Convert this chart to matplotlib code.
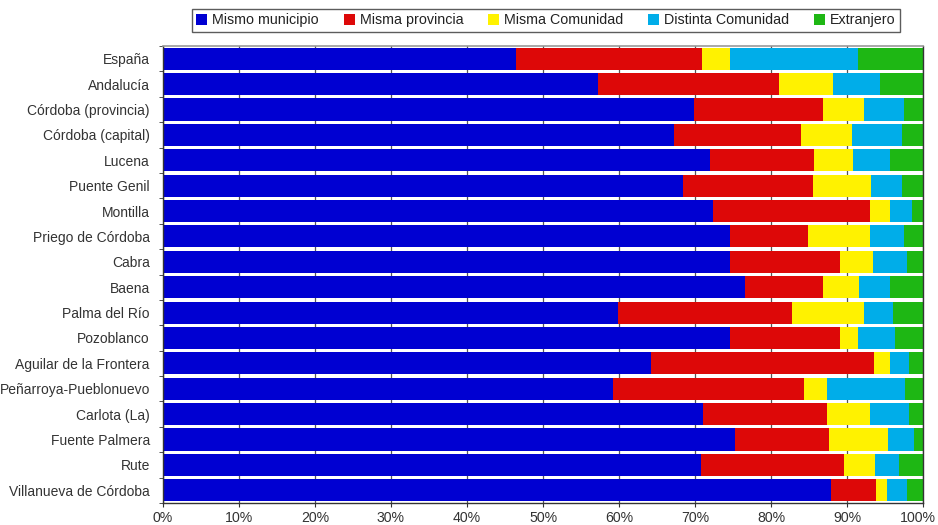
import matplotlib
matplotlib.use("Agg")
import matplotlib.pyplot as plt
import matplotlib.transforms as mtransforms
from matplotlib.patches import Patch
import numpy as np

plt.rcParams['font.family'] = ['Liberation Sans', 'DejaVu Sans']

categories = ["España", "Andalucía", "Córdoba (provincia)", "Córdoba (capital)", "Lucena",
              "Puente Genil", "Montilla", "Priego de Córdoba", "Cabra", "Baena",
              "Palma del Río", "Pozoblanco", "Aguilar de la Frontera", "Peñarroya-Pueblonuevo",
              "Carlota (La)", "Fuente Palmera", "Rute", "Villanueva de Córdoba"]

series_names = ["Mismo municipio", "Misma provincia", "Misma Comunidad", "Distinta Comunidad", "Extranjero"]

mismo_municipio = [46.4, 57.3, 69.9, 67.2, 72.0, 68.4, 72.4, 74.6, 74.6, 76.6,
                   59.9, 74.6, 64.2, 59.2, 71.1, 75.3, 70.8, 87.9]
misma_provincia = [24.5, 23.8, 17.0, 16.7, 13.7, 17.1, 20.6, 10.3, 14.5, 10.3,
                   22.8, 14.5, 29.3, 25.1, 16.3, 12.3, 18.8, 5.9]
misma_comunidad = [3.7, 7.0, 5.4, 6.8, 5.1, 7.7, 2.7, 8.1, 4.3, 4.7,
                   9.5, 2.3, 2.2, 3.1, 5.6, 7.8, 4.1, 1.5]
distinta_comunidad = [16.8, 6.3, 5.2, 6.6, 4.8, 4.1, 2.9, 4.5, 4.5, 4.0,
                      3.9, 4.9, 2.5, 10.2, 5.2, 3.4, 3.2, 2.6]
extranjero = [8.6, 5.6, 2.5, 2.7, 4.4, 2.7, 1.4, 2.5, 2.1, 4.4,
              3.9, 3.7, 1.8, 2.4, 1.8, 1.2, 3.1, 2.1]

xtick_labels = ["0%", "10%", "20%", "30%", "40%", "50%", "60%", "70%", "80%", "90%", "100%"]

colors = ["#0000D2", "#DD0808", "#FFF200", "#00ADE9", "#1EB714"]

data = [mismo_municipio, misma_provincia, misma_comunidad, distinta_comunidad, extranjero]

fig = plt.figure(figsize=(9.38, 5.25), dpi=100)
ax = fig.add_axes([163/938, 1 - 503/525, 760/938, 457/525])

y = np.arange(len(categories))
left = np.zeros(len(categories))
for vals, col, name in zip(data, colors, series_names):
    vals = np.array(vals)
    ax.barh(y, vals, left=left, height=0.87, color=col, label=name, zorder=2)
    left += vals

ax.set_xlim(0, 100)
ax.set_ylim(len(categories) - 0.5, -0.5)

ax.set_xticks(np.arange(0, 101, 10))
ax.set_xticklabels(xtick_labels, fontsize=10.2, color="#333333")
ax.set_yticks(y)
ax.set_yticklabels(categories, fontsize=10, color="#333333")
ax.tick_params(axis='y', length=0, pad=9.5)
ax.set_yticks(np.arange(-0.5, len(categories), 1), minor=True)
ax.tick_params(axis='y', which='minor', length=3, color="#333333", direction='out')
ax.tick_params(axis='x', length=3, color="#333333", direction='out', pad=2.5)

# nudge the last x label inward so it stays inside the canvas, as in the reference
last = ax.get_xticklabels()[-1]
last.set_transform(last.get_transform() + mtransforms.ScaledTranslation(-5/100, 0, fig.dpi_scale_trans))

ax.grid(axis='x', color="#555555", linewidth=0.9, zorder=0)
ax.set_axisbelow(True)

ax.spines['top'].set_color("#999999")
ax.spines['top'].set_linewidth(1.2)
for s in ['left', 'bottom', 'right']:
    ax.spines[s].set_color("#333333")
    ax.spines[s].set_linewidth(1.0)

handles = [Patch(facecolor=c, edgecolor='none') for c in colors]
leg = fig.legend(handles, series_names, loc='upper center', ncol=5,
                 bbox_to_anchor=(546/938, 1 - 9/525), fontsize=10.3,
                 frameon=True, fancybox=False, edgecolor="#333333",
                 handlelength=0.75, handleheight=0.75, handletextpad=0.35,
                 columnspacing=1.75, borderpad=0.3, borderaxespad=0)
leg.get_frame().set_linewidth(1.0)
for t in leg.get_texts():
    t.set_color("#222222")

fig.savefig("out.png", dpi=100)
